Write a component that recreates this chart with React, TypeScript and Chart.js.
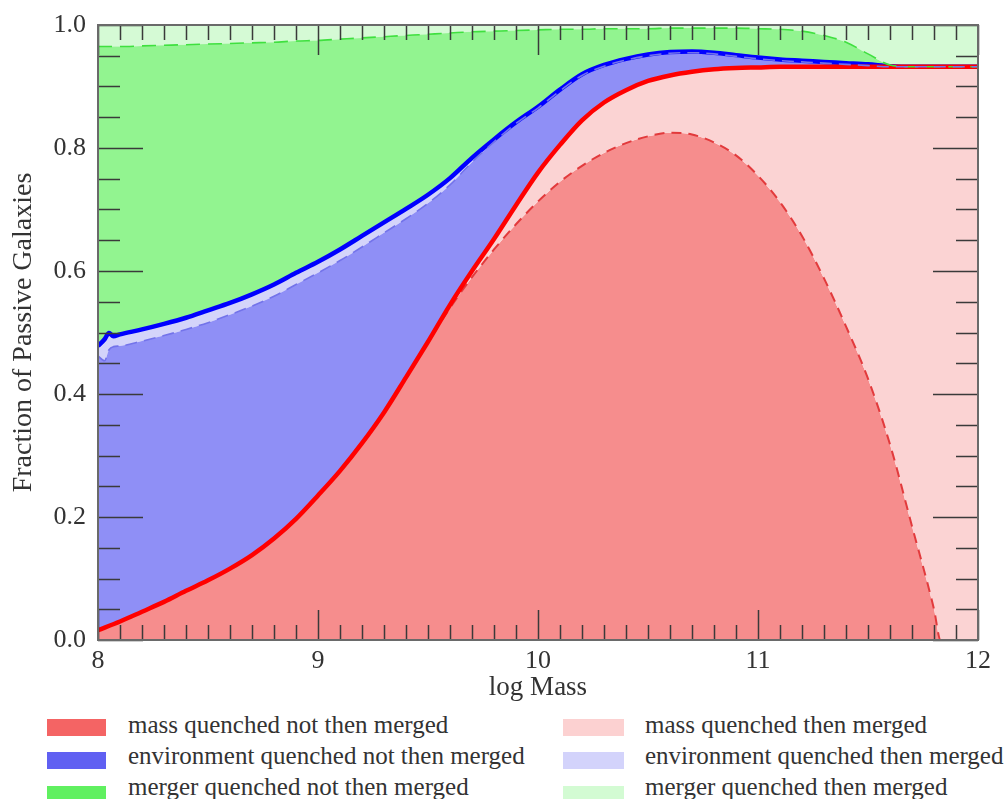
import React, { useEffect, useRef } from "react";
import { Chart, registerables } from "chart.js";

Chart.register(...registerables);

// ---- data ----
const GRID_X = [
  8.0, 8.1, 8.2, 8.3, 8.4, 8.5, 8.6, 8.7, 8.8, 8.9,
  9.0, 9.1, 9.2, 9.3, 9.4, 9.5, 9.6, 9.7, 9.8, 9.9,
  10.0, 10.1, 10.2, 10.3, 10.4, 10.5, 10.6, 10.7, 10.8, 10.9,
  11.0, 11.1, 11.2, 11.3, 11.4, 11.5, 11.6, 11.7, 11.8, 11.9, 12.0,
];

// solid red: all mass quenched
const MASS_TOTAL = [
  0.016, 0.030, 0.046, 0.062, 0.080, 0.097, 0.116, 0.138, 0.165, 0.197,
  0.235, 0.275, 0.320, 0.370, 0.427, 0.485, 0.545, 0.600, 0.652, 0.707,
  0.760, 0.805, 0.845, 0.874, 0.894, 0.909, 0.918, 0.924, 0.928, 0.930,
  0.931, 0.932, 0.932, 0.932, 0.932, 0.932, 0.932, 0.932, 0.932, 0.932, 0.932,
];

// dashed red: mass quenched not then merged
const MASS_NOT_X = [
  8.0, 8.1, 8.2, 8.3, 8.4, 8.5, 8.6, 8.7, 8.8, 8.9,
  9.0, 9.1, 9.2, 9.3, 9.4, 9.5, 9.6, 9.7, 9.8, 9.9,
  10.0, 10.1, 10.2, 10.3, 10.4, 10.5, 10.6, 10.7, 10.8, 10.9,
  11.0, 11.1, 11.2, 11.3, 11.4, 11.5, 11.6, 11.7, 11.8, 11.83, 11.9, 12.0,
];
const MASS_NOT = [
  0.016, 0.030, 0.046, 0.062, 0.080, 0.097, 0.116, 0.138, 0.165, 0.197,
  0.235, 0.275, 0.320, 0.370, 0.427, 0.484, 0.540, 0.590, 0.635, 0.676,
  0.713, 0.745, 0.771, 0.792, 0.808, 0.819, 0.825, 0.822, 0.809, 0.788,
  0.755, 0.712, 0.657, 0.588, 0.510, 0.425, 0.318, 0.185, 0.050, 0.0, 0.0, 0.0,
];

// environment curves (extra points near 8 for the small kink)
const ENV_X = [
  8.0, 8.03, 8.05, 8.07, 8.1, 8.2, 8.3, 8.4, 8.5, 8.6, 8.7, 8.8, 8.9,
  9.0, 9.1, 9.2, 9.3, 9.4, 9.5, 9.6, 9.7, 9.8, 9.9,
  10.0, 10.1, 10.2, 10.3, 10.4, 10.5, 10.6, 10.7, 10.8, 10.9,
  11.0, 11.1, 11.2, 11.3, 11.4, 11.5, 11.6, 11.7, 11.8, 11.9, 12.0,
];
// solid blue: mass + environment quenched
const ENV_TOTAL = [
  0.478, 0.489, 0.499, 0.494, 0.497, 0.505, 0.514, 0.524, 0.536, 0.548, 0.562, 0.578, 0.597,
  0.615, 0.635, 0.657, 0.679, 0.701, 0.724, 0.751, 0.784, 0.814, 0.842,
  0.867, 0.895, 0.920, 0.935, 0.945, 0.952, 0.956, 0.957, 0.955, 0.951,
  0.947, 0.944, 0.942, 0.940, 0.938, 0.936, 0.933, 0.932, 0.932, 0.932, 0.932,
];
// dashed blue: boundary of environment quenched not then merged
const ENV_NOT = [
  0.462, 0.454, 0.472, 0.477, 0.478, 0.486, 0.495, 0.505, 0.516, 0.529, 0.543, 0.559, 0.578,
  0.597, 0.617, 0.639, 0.662, 0.685, 0.710, 0.740, 0.777, 0.810, 0.840,
  0.865, 0.893, 0.918, 0.933, 0.943, 0.950, 0.954, 0.955, 0.953, 0.949,
  0.945, 0.942, 0.940, 0.938, 0.936, 0.934, 0.932, 0.932, 0.932, 0.932, 0.932,
];

// dashed green: boundary of merger quenched not then merged
const MERGER_NOT = [
  0.965, 0.965, 0.966, 0.967, 0.968, 0.969, 0.970, 0.971, 0.972, 0.974,
  0.975, 0.977, 0.979, 0.981, 0.983, 0.985, 0.987, 0.989, 0.990, 0.991,
  0.992, 0.993, 0.993, 0.994, 0.994, 0.994, 0.995, 0.995, 0.995, 0.995,
  0.994, 0.993, 0.990, 0.983, 0.972, 0.953, 0.935, 0.932, 0.932, 0.932, 0.932,
];

const ALL_X = [8, 12];
const ALL = [1.0, 1.0];

const X_MIN = 8;
const X_MAX = 12;
const Y_MIN = 0;
const Y_MAX = 1;

const LEGEND_LEFT = [
  { label: "mass quenched not then merged", color: "#f46464" },
  { label: "environment quenched not then merged", color: "#6060f2" },
  { label: "merger quenched not then merged", color: "#60f060" },
];
const LEGEND_RIGHT = [
  { label: "mass quenched then merged", color: "#fcd1d1" },
  { label: "environment quenched then merged", color: "#d3d3fb" },
  { label: "merger quenched then merged", color: "#d3fbd3" },
];

const FONT = "'Liberation Serif', 'Times New Roman', serif";
const TEXT = "#333333";

function pts(xs: number[], ys: number[]) {
  return xs.map((x, i) => ({ x, y: ys[i] }));
}

const frameTicks = {
  id: "frameTicks",
  afterDatasetsDraw(chart: any) {
    const { ctx, chartArea, scales } = chart;
    const { left, right, top, bottom } = chartArea;
    const xs = scales.x;
    const ys = scales.y;
    ctx.save();
    ctx.strokeStyle = "#3a3a3a";
    ctx.lineWidth = 1.5;
    ctx.beginPath();
    for (let i = 0; i <= 40; i++) {
      const v = X_MIN + i * 0.1;
      const px = Math.round(xs.getPixelForValue(v)) + 0.5;
      const len = i % 10 === 0 ? 30 : 15;
      ctx.moveTo(px, bottom);
      ctx.lineTo(px, bottom - len);
      ctx.moveTo(px, top);
      ctx.lineTo(px, top + len);
    }
    for (let i = 0; i <= 20; i++) {
      const v = Y_MIN + i * 0.05;
      const py = Math.round(ys.getPixelForValue(v)) + 0.5;
      const len = i % 4 === 0 ? 45 : 22;
      ctx.moveTo(left, py);
      ctx.lineTo(left + len, py);
      ctx.moveTo(right, py);
      ctx.lineTo(right - len, py);
    }
    ctx.stroke();
    ctx.strokeStyle = "#6a6a6a";
    ctx.lineWidth = 2;
    ctx.strokeRect(left, top, right - left, bottom - top);
    ctx.restore();
  },
};

function Swatch({ color, left, top, width }: any) {
  return (
    <div
      style={{
        position: "absolute",
        left,
        top,
        width,
        height: 17,
        background: color,
        filter: "blur(0.6px)",
      }}
    />
  );
}

export default function App() {
  const canvasRef = useRef<HTMLCanvasElement | null>(null);

  useEffect(() => {
    const canvas = canvasRef.current;
    if (!canvas) return;
    const common = {
      pointRadius: 0,
      pointHoverRadius: 0,
      cubicInterpolationMode: "monotone" as const,
    };
    const chart = new Chart(canvas, {
      type: "line",
      data: {
        datasets: [
          {
            ...common,
            label: "mass quenched not then merged",
            data: pts(MASS_NOT_X, MASS_NOT),
            borderColor: "#e23a3c",
            borderWidth: 2,
            borderDash: [10, 7],
            backgroundColor: "#f68d8d",
            fill: "origin",
            order: 3,
          },
          {
            ...common,
            label: "mass quenched then merged",
            data: pts(GRID_X, MASS_TOTAL),
            borderColor: "#ff0000",
            borderWidth: 4.5,
            backgroundColor: "#fbd3d3",
            fill: 0,
            order: 2,
          },
          {
            ...common,
            label: "environment quenched not then merged",
            data: pts(ENV_X, ENV_NOT),
            borderColor: "#7373ea",
            borderWidth: 1.6,
            borderDash: [12, 7],
            backgroundColor: "#8f8ff6",
            fill: 1,
            order: 0,
          },
          {
            ...common,
            label: "environment quenched then merged",
            data: pts(ENV_X, ENV_TOTAL),
            borderColor: "#0000ff",
            borderWidth: 4.5,
            backgroundColor: "#d4d4fa",
            fill: 2,
            order: 4,
          },
          {
            ...common,
            label: "merger quenched not then merged",
            data: pts(GRID_X, MERGER_NOT),
            borderColor: "#3fe03f",
            borderWidth: 1.6,
            borderDash: [14, 8],
            backgroundColor: "#92f490",
            fill: 3,
            order: 1,
          },
          {
            ...common,
            label: "merger quenched then merged",
            data: pts(ALL_X, ALL),
            borderColor: "rgba(0,0,0,0)",
            borderWidth: 0,
            backgroundColor: "#d5fad5",
            fill: 4,
            order: 5,
          },
        ],
      },
      options: {
        animation: false,
        responsive: false,
        maintainAspectRatio: false,
        events: [],
        layout: { padding: { top: 17, right: 22, left: 0, bottom: 0 } },
        plugins: {
          legend: { display: false },
          tooltip: { enabled: false },
          filler: { drawTime: "beforeDatasetsDraw" },
        },
        scales: {
          x: {
            type: "linear",
            min: X_MIN,
            max: X_MAX,
            grid: { display: false, drawTicks: false },
            border: { display: false },
            ticks: {
              stepSize: 1,
              padding: 6,
              color: TEXT,
              font: { family: FONT, size: 26 },
              callback: (v: any) => String(v),
            },
            title: {
              display: true,
              text: "log Mass",
              color: TEXT,
              font: { family: FONT, size: 27 },
              padding: { top: 0, bottom: 4 },
            },
            afterFit: (s: any) => {
              s.height = 68;
            },
          },
          y: {
            type: "linear",
            min: Y_MIN,
            max: Y_MAX,
            grid: { display: false, drawTicks: false },
            border: { display: false },
            ticks: {
              stepSize: 0.2,
              padding: 12,
              color: TEXT,
              font: { family: FONT, size: 26 },
              callback: (v: any) => Number(v).toFixed(1),
            },
            title: {
              display: true,
              text: "Fraction of Passive Galaxies",
              color: TEXT,
              font: { family: FONT, size: 28, lineHeight: 1 },
              padding: { top: 2, bottom: 0 },
            },
            afterFit: (s: any) => {
              s.width = 90;
              s.paddingTop = 0;
              s.paddingBottom = 0;
            },
          },
        },
      },
      plugins: [frameTicks],
    });
    return () => chart.destroy();
  }, []);

  const textStyle = (left: number, top: number) => ({
    position: "absolute" as const,
    left,
    top,
    fontFamily: FONT,
    fontSize: 25,
    lineHeight: "25px",
    color: TEXT,
    whiteSpace: "nowrap" as const,
  });

  const swatchTops = [719, 752, 786];
  const textTops = [712, 743, 774];

  return (
    <div
      style={{
        position: "fixed",
        left: 0,
        top: 0,
        width: 1008,
        height: 799,
        overflow: "hidden",
        background: "#ffffff",
      }}
    >
      <canvas
        ref={canvasRef}
        width={992}
        height={700}
        style={{ position: "absolute", left: 8, top: 8, display: "block", width: 992, height: 700 }}
      />
      {LEGEND_LEFT.map((item, i) => (
        <React.Fragment key={"l" + i}>
          <Swatch color={item.color} left={47} top={swatchTops[i]} width={59} />
          <div style={textStyle(128, textTops[i])}>{item.label}</div>
        </React.Fragment>
      ))}
      {LEGEND_RIGHT.map((item, i) => (
        <React.Fragment key={"r" + i}>
          <Swatch color={item.color} left={563} top={swatchTops[i]} width={61} />
          <div style={textStyle(645, textTops[i])}>{item.label}</div>
        </React.Fragment>
      ))}
    </div>
  );
}
